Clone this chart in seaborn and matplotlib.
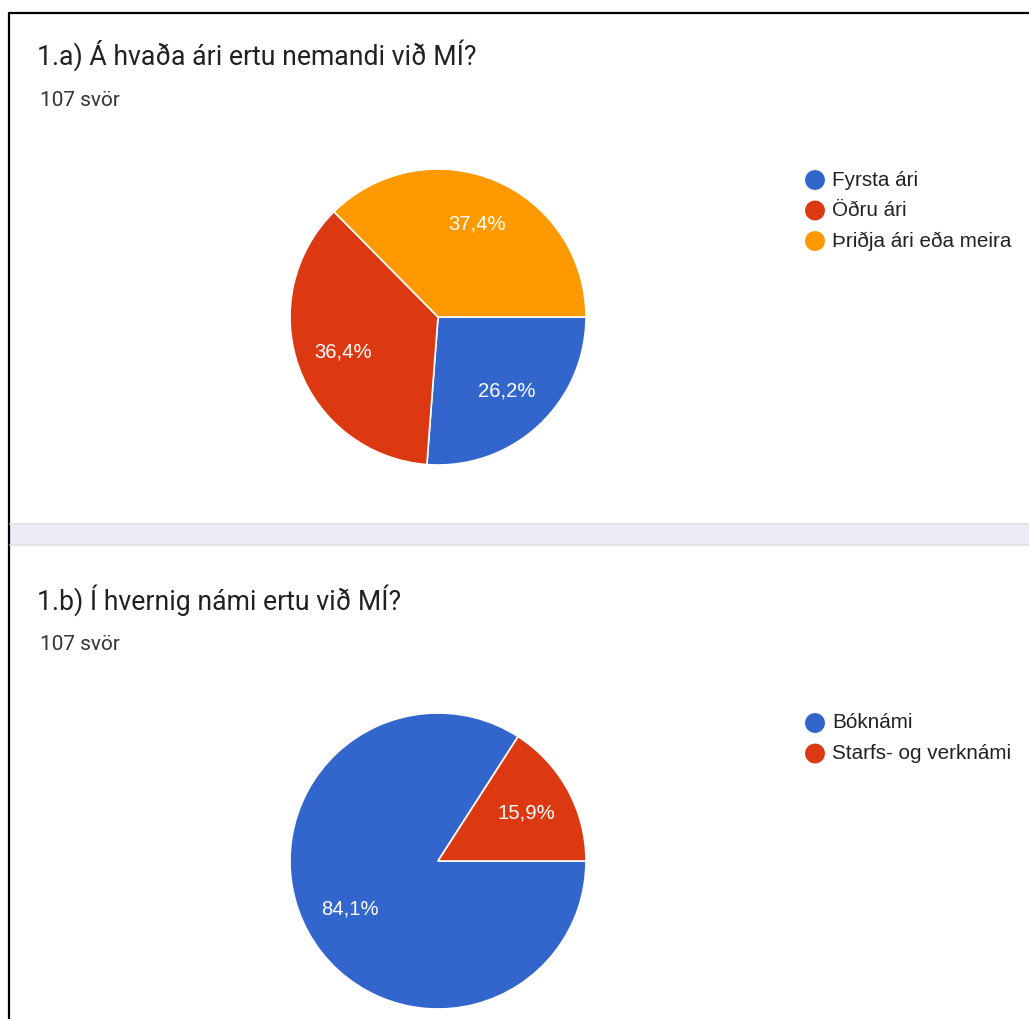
import matplotlib
matplotlib.use("Agg")
import matplotlib.pyplot as plt
from matplotlib.patches import Rectangle
import seaborn as sns

# ---- data ----
title_a = "1.a) Á hvaða ári ertu nemandi við MÍ?"
title_b = "1.b) Í hvernig námi ertu við MÍ?"
responses = "107 svör"
labels_a = ["Fyrsta ári", "Öðru ári", "Þriðja ári eða meira"]
values_a = [26.2, 36.4, 37.4]
labels_b = ["Bóknámi", "Starfs- og verknámi"]
values_b = [84.1, 15.9]

sns.set_theme(style="white")
plt.rcParams['font.family'] = ['Roboto', 'DejaVu Sans']
colors = ["#3366CC", "#DC3912", "#FF9900"]

W, H = 1029, 1019
fig = plt.figure(figsize=(W / 100, H / 100), dpi=100)
fig.patch.set_facecolor("white")

# background axes in pixel coordinates
bg = fig.add_axes([0, 0, 1, 1])
bg.set_xlim(0, W)
bg.set_ylim(H, 0)
bg.axis("off")

# borders
bg.plot([9, 9], [12, H], color="black", lw=1.6, solid_capstyle="butt")
bg.plot([9, W], [13, 13], color="black", lw=1.6, solid_capstyle="butt")
# separator band
bg.add_patch(Rectangle((10, 523), W - 10, 22, facecolor="#EEEAF7", edgecolor="none"))
bg.plot([10, W], [523.5, 523.5], color="#E0DEE9", lw=1.2)
bg.plot([10, W], [544.5, 544.5], color="#E0DEE9", lw=1.2)


def panel(title, y_title, y_resp, labels, values, cy, leg_y):
    bg.text(37, y_title, title, fontsize=19.2, color="#202124", va="center", ha="left")
    bg.text(40, y_resp, responses, fontsize=15, color="#333333", va="center", ha="left")
    r = 148
    cx = 438
    ax = fig.add_axes([(cx - r) / W, (H - cy - r) / H, 2 * r / W, 2 * r / H])
    wedges, texts, autotexts = ax.pie(
        values, colors=colors[:len(values)], startangle=0, counterclock=False,
        radius=1, autopct=lambda p: f"{p:.1f}%".replace(".", ","),
        pctdistance=0.68, wedgeprops=dict(edgecolor="white", linewidth=1.2),
        textprops=dict(color="white", fontsize=14.6,
                       family=["Liberation Sans", "DejaVu Sans"]))
    ax.set_xlim(-1.0, 1.0)
    ax.set_ylim(-1.0, 1.0)
    ax.set_aspect("equal")
    ax.axis("off")
    for i, lab in enumerate(labels):
        y = leg_y + i * 30.5
        bg.scatter([815], [y], s=205, color=colors[i], edgecolors="none")
        bg.text(832, y, lab, fontsize=14.9, color="#222222", va="center", ha="left",
                family=["Liberation Sans", "DejaVu Sans"])


panel(title_a, 55, 100, labels_a, values_a, 317, 180)
panel(title_b, 600, 644, labels_b, values_b, 861, 723)

fig.savefig("out.png", dpi=100, facecolor="white")
